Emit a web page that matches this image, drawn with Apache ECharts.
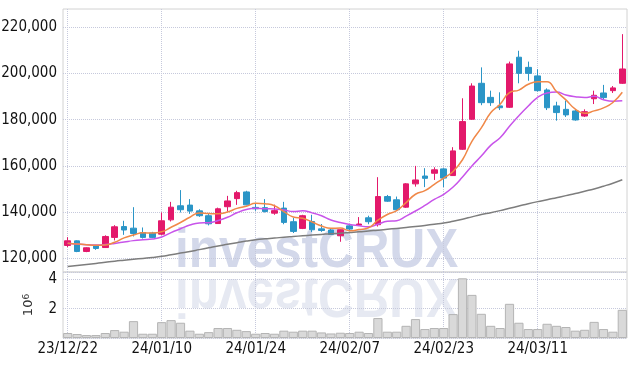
<!DOCTYPE html>
<html><head><meta charset="utf-8">
<script src="https://cdn.jsdelivr.net/npm/echarts@6/dist/echarts.min.js"></script>
<style>html,body{margin:0;padding:0;background:#fff}#c{width:636px;height:366px}</style>
</head><body><div id="c"></div>
<script>
const dates = ['23/12/22','23/12/26','23/12/27','23/12/28','24/01/02','24/01/03','24/01/04','24/01/05','24/01/08','24/01/09',
'24/01/10','24/01/11','24/01/12','24/01/15','24/01/16','24/01/17','24/01/18','24/01/19','24/01/22','24/01/23',
'24/01/24','24/01/25','24/01/26','24/01/29','24/01/30','24/01/31','24/02/01','24/02/02','24/02/05','24/02/06',
'24/02/07','24/02/08','24/02/13','24/02/14','24/02/15','24/02/16','24/02/19','24/02/20','24/02/21','24/02/22',
'24/02/23','24/02/26','24/02/27','24/02/28','24/02/29','24/03/04','24/03/05','24/03/06','24/03/07','24/03/08',
'24/03/11','24/03/12','24/03/13','24/03/14','24/03/15','24/03/18','24/03/19','24/03/20','24/03/21','24/03/22'];
const opens = [125500,127500,122900,125500,124600,129000,133700,133000,131100,130900,
130400,136600,142700,143000,140500,138400,135000,142300,145800,148700,
142000,141900,139500,141700,135800,132900,135900,132700,132200,129700,
134000,134300,137500,134500,146700,145300,142100,152200,155600,156800,
158700,155800,167200,180200,195800,189700,186000,185400,207100,202700,
199000,192900,186000,184500,183800,181600,189100,191600,192600,195800];
const closes = [127530,122900,124500,124200,129400,133600,132200,130700,129000,129000,
136200,142100,141000,140400,138400,134900,141400,144800,148400,143100,
141400,140200,140600,135500,131600,138400,132300,132000,130300,132300,
132600,134800,135800,146700,144700,141000,152200,153900,154600,158300,
154700,166500,179200,194600,187400,187400,185200,204200,200100,200100,
192600,185200,183100,182100,179900,183500,190600,189600,193800,202000];
const lows = [124800,122600,122600,123600,124500,127700,130100,129400,128500,128700,
130000,135900,139800,139200,137900,134200,134900,140200,143100,142900,
140500,139800,138800,134700,130900,132600,131300,131400,130100,127100,
132000,134000,134700,133700,144400,140500,141800,151000,150800,153900,
150800,155700,166900,179900,186300,186000,184200,185100,195800,196900,
192200,184200,179600,181200,179600,181200,186800,188600,191600,195500];
const highs = [129100,127700,124700,125600,129900,134300,136200,142100,133300,131400,
139800,144400,149500,145600,141200,139200,141900,147000,149200,149200,
144000,145600,143200,144400,137400,138800,138800,134800,132700,132400,
134800,137800,138400,155100,147400,146700,152500,160000,159000,159400,
159000,168100,189300,195800,202700,192600,191900,205200,209900,205200,
201900,193600,187800,188300,184500,184500,192600,195100,194600,217100];
// volume in millions of shares
const volumesM = [0.34,0.27,0.20,0.20,0.34,0.54,0.43,1.15,0.29,0.29,
1.08,1.22,1.04,0.50,0.29,0.40,0.68,0.68,0.56,0.47,
0.29,0.34,0.29,0.50,0.43,0.50,0.50,0.38,0.31,0.36,
0.34,0.43,0.34,1.36,0.43,0.43,0.83,1.29,0.61,0.68,
0.68,1.63,4.07,2.94,1.65,0.83,0.68,2.33,1.04,0.61,
0.61,0.97,0.83,0.75,0.50,0.56,1.10,0.61,0.43,1.92];
// moving-average values before enough in-window closes exist
const ma5Head = [126500,126100,125800,125600];
const ma10Head = [126500,126100,125800,125700,125900,126400,127000,127600,128000];
// long moving average line
const ma60 = [116400,116800,117300,117700,118200,118700,119100,119500,119900,120300,
120800,121500,122200,122900,123700,124500,125300,126000,126700,127400,
128000,128400,128700,129100,129400,129700,130000,130300,130600,130800,
131100,131400,131800,132100,132500,132900,133300,133700,134200,134700,
135200,136000,136900,137900,138900,139700,140600,141600,142600,143600,
144500,145300,146200,147100,148000,149000,150000,151200,152500,154000];
const priceTicks = [120000,140000,160000,180000,200000,220000];
const volumeTickLabels = [2000000,4000000];

function movingAverage(n, head){
  return closes.map((c,i)=> i < n-1 ? head[i] :
    Math.round(closes.slice(i-n+1,i+1).reduce((a,b)=>a+b,0)/n));
}
const ma5 = movingAverage(5, ma5Head);
const ma10 = movingAverage(10, ma10Head);

const FONT = "'Liberation Sans Narrow','DejaVu Sans Condensed',sans-serif";
const UP = '#e3196b', DOWN = '#2b95c7';
const gridLine = {show:true, lineStyle:{color:'#c6c9dc', type:'dotted', width:1}};
const chart = echarts.init(document.getElementById('c'), null, {renderer:'canvas'});
chart.setOption({
  animation:false,
  backgroundColor:'#fff',
  graphic:[
    {type:'text', z:-10, x:175, y:252, scaleX:0.9,
     style:{text:'investCRUX', font:'bold 55px "Liberation Sans", Arial, sans-serif', fill:'#d3d8ea', verticalAlign:'middle', align:'left'}},
    {type:'text', z:-10, x:175, y:274, scaleX:0.9, scaleY:-1,
     style:{text:'investCRUX', x:0, y:-20, font:'bold 55px "Liberation Sans", Arial, sans-serif', fill:'#e6e9f2', verticalAlign:'middle', align:'left'}}
  ],
  grid:[
    {left:63, right:9, top:9, height:263, outerBoundsMode:'none', show:true, borderColor:'#d2d2d2', borderWidth:1, backgroundColor:'transparent'},
    {left:63, right:9, top:272, height:66, outerBoundsMode:'none', show:true, borderColor:'#d2d2d2', borderWidth:1, backgroundColor:'transparent'}
  ],
  xAxis:[
    {type:'category', gridIndex:0, data:dates, axisLine:{show:false}, axisTick:{show:false}, axisLabel:{show:false},
     splitLine:Object.assign({interval:9, alignWithLabel:true}, gridLine)},
    {type:'category', gridIndex:1, data:dates, axisLine:{show:false}, axisTick:{show:false},
     axisLabel:{interval:9, color:'#111', fontFamily:FONT, fontSize:15, margin:4},
     splitLine:Object.assign({interval:9, alignWithLabel:true}, gridLine)}
  ],
  yAxis:[
    {type:'value', gridIndex:0, min:114000, max:228000, axisLine:{show:false},
     axisTick:{show:false, customValues:priceTicks},
     axisLabel:{customValues:priceTicks, formatter:v=>v.toLocaleString('en-US'), margin:6, color:'#111', fontFamily:FONT, fontSize:15},
     splitLine:gridLine},
    {type:'value', gridIndex:1, min:0, max:4500000, interval:2000000, axisLine:{show:false},
     axisTick:{show:false},
     axisLabel:{formatter:v=>volumeTickLabels.includes(v) ? String(v/1e6) : '', margin:6, color:'#111', fontFamily:FONT, fontSize:15, showMinLabel:true, showMaxLabel:true, hideOverlap:false},
     splitLine:gridLine,
     name:'{a|10}{b|6}', nameLocation:'middle', nameRotate:90, nameGap:28,
     nameTextStyle:{color:'#333', rich:{a:{fontSize:13, fontFamily:'DejaVu Sans', color:'#333', verticalAlign:'bottom'}, b:{fontSize:9, fontFamily:'DejaVu Sans', color:'#333', verticalAlign:'top'}}}}
  ],
  series:[
    {type:'candlestick', xAxisIndex:0, yAxisIndex:0, barWidth:6,
     data:dates.map((d,i)=>[opens[i],closes[i],lows[i],highs[i]]),
     itemStyle:{color:UP, color0:DOWN, borderColor:UP, borderColor0:DOWN, borderWidth:1}},
    {type:'line', xAxisIndex:0, yAxisIndex:0, data:ma60, showSymbol:false, smooth:true, lineStyle:{color:'#7d7d7d', width:1.5}, z:3},
    {type:'line', xAxisIndex:0, yAxisIndex:0, data:ma10, showSymbol:false, smooth:true, lineStyle:{color:'#c854ea', width:1.5}, z:3},
    {type:'line', xAxisIndex:0, yAxisIndex:0, data:ma5, showSymbol:false, smooth:true, lineStyle:{color:'#f08848', width:1.5}, z:3},
    {type:'bar', xAxisIndex:1, yAxisIndex:1, data:volumesM.map(v=>v*1e6), barCategoryGap:'2%',
     itemStyle:{color:'#d9d9d9', borderColor:'#b4b4b4', borderWidth:1}}
  ]
});
</script></body></html>
